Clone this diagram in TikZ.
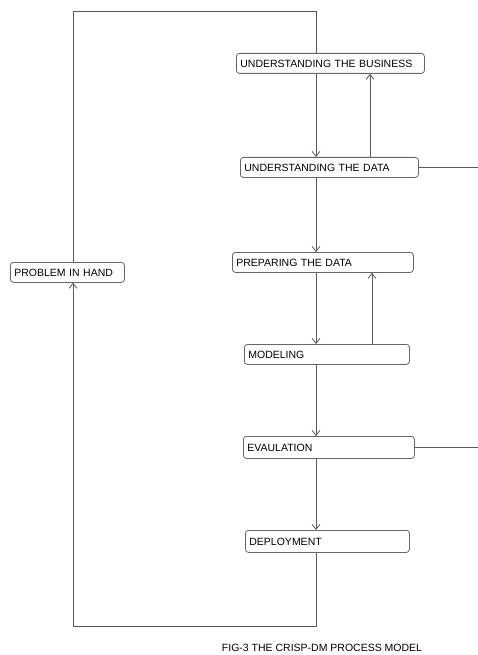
\documentclass[tikz,border=0pt]{standalone}
\usepackage{fontspec}
\setmainfont{Liberation Sans}
\usetikzlibrary{arrows.meta}

\tikzset{
    stage/.style={draw=black!60, line width=0.8pt, rounded corners=3pt, anchor=north west,
        align=left, inner xsep=4pt, inner ysep=2pt, minimum height=20pt, font=\fontsize{10.5}{12}\selectfont},
    flow/.style={draw=black!65, line width=0.8pt, -{Straight Barb[length=5pt,width=8pt]}},
    link/.style={draw=black!65, line width=0.8pt}
}

\begin{document}
\begin{tikzpicture}[x=1pt,y=-1pt]
    \useasboundingbox (0,0) rectangle (478,655);
    \node[stage, text width=180pt] (ub) at (236, 53) {UNDERSTANDING THE BUSINESS};
    \node[stage, text width=170pt] (ud) at (240,157) {UNDERSTANDING THE DATA};
    \node[stage, text width=106pt] (ph) at (10,262) {PROBLEM IN HAND};
    \node[stage, text width=173pt] (pd) at (232,252) {PREPARING THE DATA};
    \node[stage, text width=157pt] (mod) at (244,344) {MODELING};
    \node[stage, text width=163pt, minimum height=22pt] (ev) at (243,436) {EVAULATION};
    \node[stage, text width=156pt, minimum height=22pt] (dep) at (245,530) {DEPLOYMENT};
    \node[font=\fontsize{10.5}{12}\selectfont] (cap) at (322,648) {FIG-3 THE CRISP-DM PROCESS MODEL};
    \coordinate (spine) at (316,0);
    \coordinate (back1) at (370,0);
    \coordinate (back2) at (372,0);
    \coordinate (edge) at (478,0);
    \coordinate (tl) at (73,11);
    \coordinate (tr) at (316,11);
    \coordinate (bl) at (73,626);
    \coordinate (br) at (316,626);
    % main cycle
    \draw[flow] (ub.south -| spine) -- (ud.north -| spine);
    \draw[flow] (ud.south -| spine) -- (pd.north -| spine);
    \draw[flow] (pd.south -| spine) -- (mod.north -| spine);
    \draw[flow] (mod.south -| spine) -- (ev.north -| spine);
    \draw[flow] (ev.south -| spine) -- (dep.north -| spine);
    \draw[flow] (dep.south -| spine) -- (br) -- (bl) -- (ph.south -| bl);
    \draw[link] (ph.north -| tl) -- (tl) -- (tr) -- (ub.north -| tr);
    % going back
    \draw[flow] (ud.north -| back1) -- (ub.south -| back1);
    \draw[flow] (mod.north -| back2) -- (pd.south -| back2);
    \draw[link] (ud.east) -- (ud.east -| edge);
    \draw[link] (ev.east) -- (ev.east -| edge);
\end{tikzpicture}
\end{document}
